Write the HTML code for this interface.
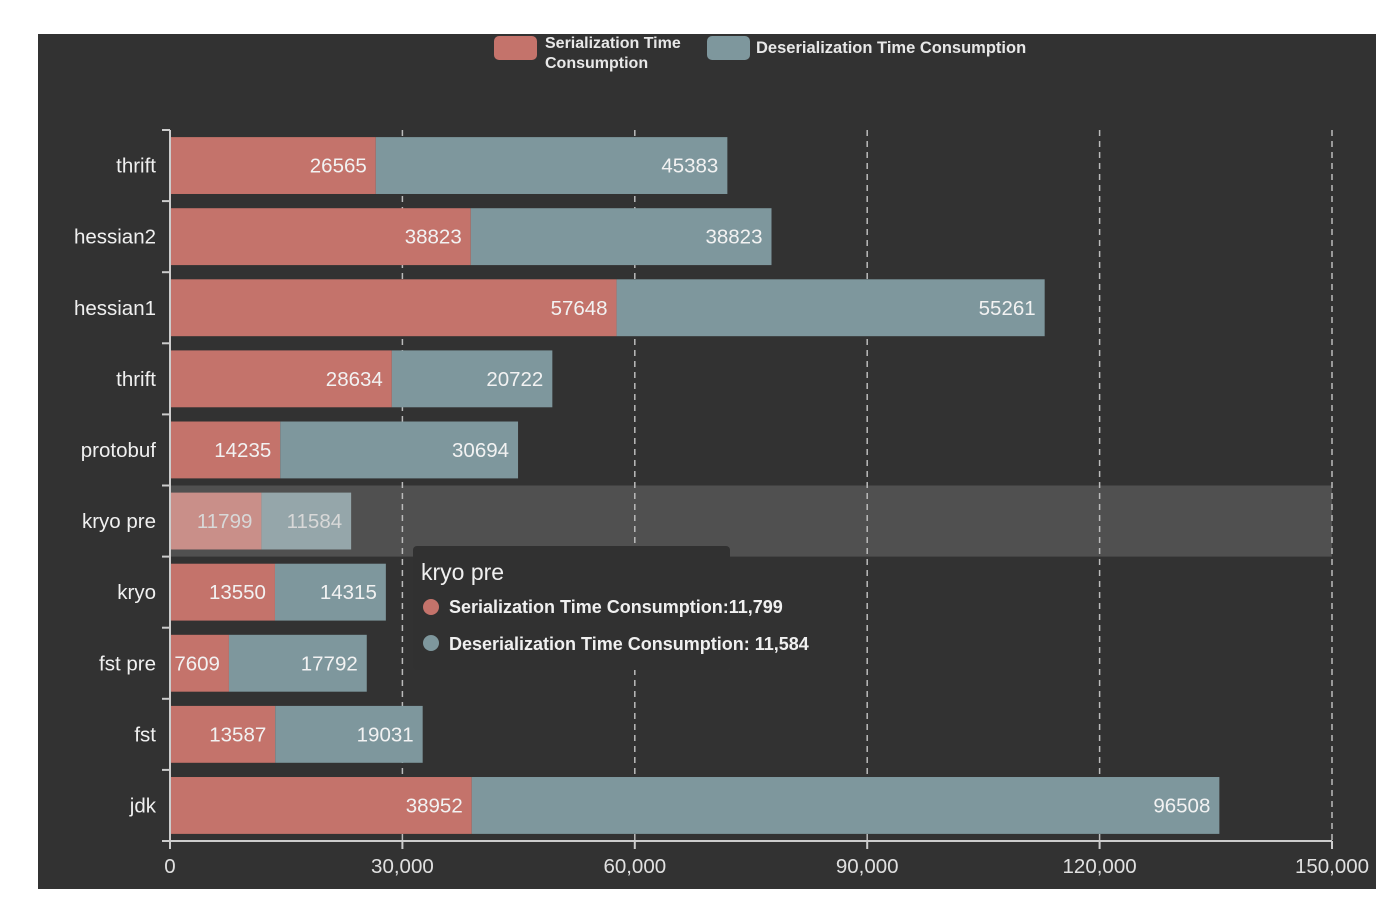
<!DOCTYPE html>
<html><head><meta charset="utf-8"><style>
html,body{margin:0;padding:0;background:#fff;}
svg{display:block;font-family:"Liberation Sans",sans-serif;}
</style></head><body>
<svg id="chart" width="1382" height="920">
<rect x="38" y="34" width="1338" height="855" fill="#323232"/>
<g id="legend">
 <rect x="494" y="36" width="43" height="24" rx="5" fill="#c4736b"/>
 <text x="545" y="48" fill="#e8e8e8" font-size="16" font-weight="bold"><tspan x="545" dy="0">Serialization Time</tspan><tspan x="545" dy="20">Consumption</tspan></text>
 <rect x="707" y="36" width="43" height="24" rx="5" fill="#7e979d"/>
 <text x="756" y="53" fill="#e8e8e8" font-size="16.5" font-weight="bold">Deserialization Time Consumption</text>
</g>
<g id="grid"></g><g id="bars"></g><g id="axes"></g>
<g>
 <rect x="413" y="546" width="317" height="124" rx="4" fill="#313131"/>
 <text x="421" y="580" fill="#f0f0f0" font-size="23">kryo pre</text>
 <circle cx="431" cy="607" r="8" fill="#c4736b"/>
 <text x="449" y="613" fill="#f0f0f0" font-size="18" font-weight="bold">Serialization Time Consumption:11,799</text>
 <circle cx="431" cy="643" r="8" fill="#7e979d"/>
 <text x="449" y="650" fill="#f0f0f0" font-size="18" font-weight="bold">Deserialization Time Consumption: 11,584</text>
</g>
</svg>
<script>
const categories=["thrift","hessian2","hessian1","thrift","protobuf","kryo pre","kryo","fst pre","fst","jdk"];
const serialization=[26565,38823,57648,28634,14235,11799,13550,7609,13587,38952];
const deserialization=[45383,38823,55261,20722,30694,11584,14315,17792,19031,96508];
const xTicks=[0,30000,60000,90000,120000,150000];
const xTickLabels=["0","30,000","60,000","90,000","120,000","150,000"];
const highlighted="kryo pre";

const NS="http://www.w3.org/2000/svg";
const X0=170,X1=1332,XMAX=150000,Y0=130,Y1=841;
const band=(Y1-Y0)/categories.length;
function xs(v){return X0+v/XMAX*(X1-X0);}
function yb(i){return Y0+i*band;}
function mk(tag,attrs,parent){const e=document.createElementNS(NS,tag);for(const k in attrs)e.setAttribute(k,attrs[k]);parent.appendChild(e);return e;}
const grid=document.getElementById('grid'),bars=document.getElementById('bars'),axes=document.getElementById('axes');

categories.forEach((c,i)=>{
 if(c===highlighted){
  const h=mk('rect',{x:X0,y:yb(i),width:X1-X0,height:band,fill:'#505050'},grid);
  
  
 }
});
xTicks.forEach((t,i)=>{
 if(i>0){
  const l=mk('line',{x1:xs(t),x2:xs(t),y1:Y0,y2:Y1,stroke:'#bbb','stroke-width':1.5,'stroke-dasharray':'6,5'},grid);
  
  
 }
 const tk=mk('line',{x1:xs(t),x2:xs(t),y1:Y1,y2:Y1+8,stroke:'#ccc','stroke-width':2},axes);
 
 
 const tl=mk('text',{x:xs(t),y:Y1+32,fill:'#e0e0e0','font-size':20.5,'text-anchor':'middle'},axes);
 tl.textContent=xTickLabels[i];
 
 
});
categories.forEach((c,i)=>{
 const hl=c===highlighted;
 const y=yb(i)+band*0.1,h=band*0.8;
 const s=serialization[i],d=deserialization[i];
 const r=mk('rect',{x:xs(0),y:y,width:xs(s)-xs(0),height:h,fill:hl?'#c98f89':'#c4736b'},bars);
 
 
 const b=mk('rect',{x:xs(s),y:y,width:xs(s+d)-xs(s),height:h,fill:hl?'#95a6aa':'#7e979d'},bars);
 
 
 const col=hl?'#d8d8d8':'#f2f2f2';
 const t1=mk('text',{x:xs(s)-9,y:y+h/2+7,fill:col,'font-size':20.5,'text-anchor':'end'},bars);
 t1.textContent=s;
 
 
 const t2=mk('text',{x:xs(s+d)-9,y:y+h/2+7,fill:col,'font-size':20.5,'text-anchor':'end'},bars);
 t2.textContent=d;
 
 
 const cl=mk('text',{x:156,y:yb(i)+band/2+7,fill:'#f0f0f0','font-size':20.5,'text-anchor':'end'},axes);
 cl.textContent=c;
 
 
});
for(let i=0;i<=categories.length;i++){
 const tk=mk('line',{x1:X0-8,x2:X0,y1:yb(i),y2:yb(i),stroke:'#ccc','stroke-width':2},axes);
 
 
}
const ya=mk('line',{x1:X0,x2:X0,y1:Y0,y2:Y1,stroke:'#ccc','stroke-width':2},axes);


const xa=mk('line',{x1:X0,x2:X1,y1:Y1,y2:Y1,stroke:'#ccc','stroke-width':2},axes);


</script>
</body></html>
